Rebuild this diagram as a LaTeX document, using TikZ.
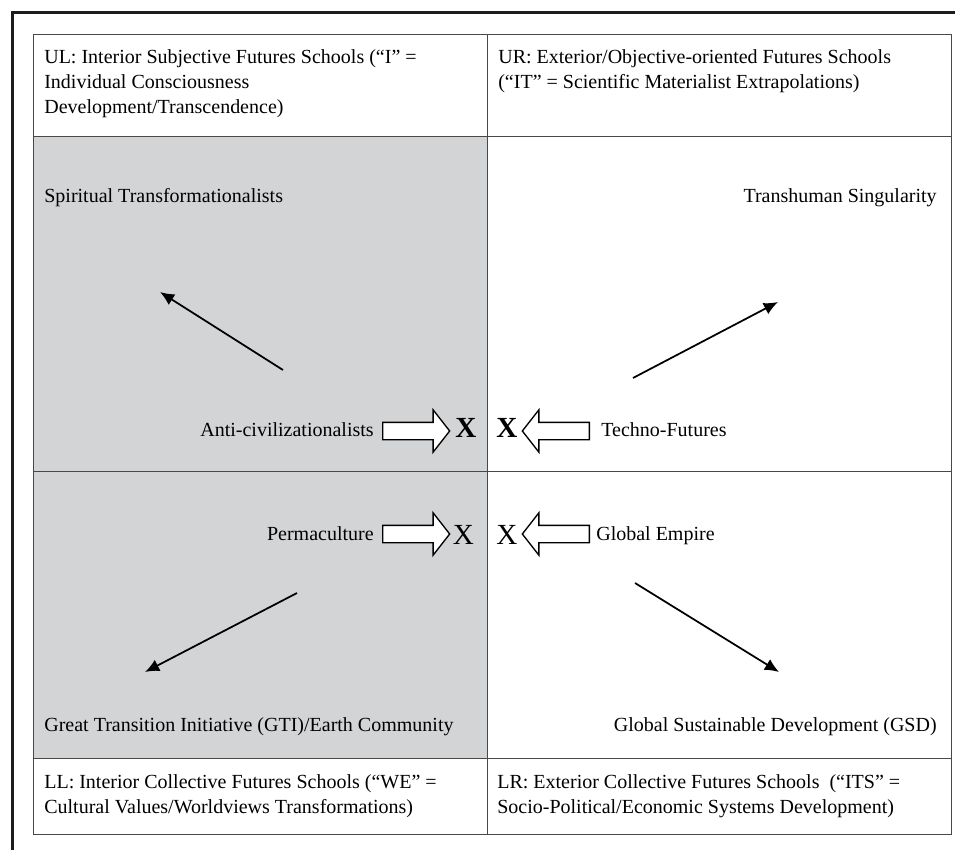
\documentclass[tikz,border=0pt]{standalone}
\usepackage{fontspec}
\setmainfont{Liberation Serif}
\usepackage{xcolor}
\usepackage{tikz}
\usetikzlibrary{shapes.arrows}
\usetikzlibrary{arrows.meta}

\definecolor{cellgray}{RGB}{211,212,214}
\definecolor{rulegray}{RGB}{72,72,72}
\definecolor{framegray}{RGB}{28,28,28}

\begin{document}
\begin{tikzpicture}[x=0.6pt,y=-0.6pt,
	txt/.style={inner sep=0pt,font=\fontsize{12}{15}\selectfont},
	head/.style={txt,align=left,anchor=north west},
	bigx/.style={inner sep=0pt,font=\fontsize{17.5}{20}\selectfont},
	rule/.style={rulegray,line width=0.6pt},
	blockarrow/.style={single arrow,draw=black,fill=white,line width=0.8pt,inner xsep=0pt,inner ysep=4.8pt,minimum height=40.2pt,single arrow head extend=7.5pt,single arrow tip angle=104},
	thinarrow/.style={-{Latex[length=8.5pt,width=7.5pt]},line width=1.05pt}]
		\useasboundingbox (0,0) rectangle (955,850);
		\fill[white] (0,0) rectangle (955,850);
		\draw[framegray,line width=1.8pt] (12,850) -- (12,12) -- (955,12);
		
		\fill[cellgray] (33,136) rectangle (487,758);
		\draw[rule] (33,34) rectangle (951,834);
		\draw[rule] (487,34) -- (487,834);
		\draw[rule] (33,136) -- (951,136);
		\draw[rule] (33,471) -- (951,471);
		\draw[rule] (33,758) -- (951,758);
		
		\node[head] (ulhead) at (44,49) {UL: Interior Subjective Futures Schools (“I” =\\Individual Consciousness\\Development/Transcendence)};
		\node[head] (urhead) at (498,49) {UR: Exterior/Objective-oriented Futures Schools\\(“IT” = Scientific Materialist Extrapolations)};
		\node[head] (llhead) at (44,774) {LL: Interior Collective Futures Schools (“WE” =\\Cultural Values/Worldviews Transformations)};
		\node[head] (lrhead) at (497,774) {LR: Exterior Collective Futures Schools\ \ (“ITS” =\\Socio-Political/Economic Systems Development)};
		
		\node[txt,anchor=base west] (spirit) at (44,202) {Spiritual Transformationalists};
		\node[txt,anchor=base east] (transhuman) at (937,202) {Transhuman Singularity};
		\node[txt,anchor=base west] (gti) at (44,731) {Great Transition Initiative (GTI)/Earth Community};
		\node[txt,anchor=base east] (gsd) at (937,731) {Global Sustainable Development (GSD)};
		
		\node[txt,anchor=base east] (anti) at (374,436) {Anti-civilizationalists};
		\node[blockarrow,anchor=tail] (antiarrow) at (382,431) {};
		\node[bigx,anchor=base] (antix) at (466,437) {\textbf{X}};
		\node[bigx,anchor=base] (technox) at (507,437) {\textbf{X}};
		\node[blockarrow,shape border rotate=180,anchor=tail] (technoarrow) at (590,431) {};
		\node[txt,anchor=base west] (techno) at (601,436) {Techno-Futures};
		
		\node[txt,anchor=base east] (perma) at (374,540) {Permaculture};
		\node[blockarrow,anchor=tail] (permaarrow) at (382,534) {};
		\node[bigx,anchor=base] (permax) at (463.5,544) {X};
		\node[bigx,anchor=base] (empirex) at (507,544) {X};
		\node[blockarrow,shape border rotate=180,anchor=tail] (empirearrow) at (590,534) {};
		\node[txt,anchor=base west] (empire) at (596,540) {Global Empire};
		
		\coordinate (ulfrom) at (283,370);
		\coordinate (ulto) at (160,292);
		\coordinate (urfrom) at (633,378);
		\coordinate (urto) at (778,302);
		\coordinate (llfrom) at (297,593);
		\coordinate (llto) at (145,672);
		\coordinate (lrfrom) at (635,583);
		\coordinate (lrto) at (779,672);
		\draw[thinarrow] (ulfrom) -- (ulto);
		\draw[thinarrow] (urfrom) -- (urto);
		\draw[thinarrow] (llfrom) -- (llto);
		\draw[thinarrow] (lrfrom) -- (lrto);
\end{tikzpicture}
\end{document}
